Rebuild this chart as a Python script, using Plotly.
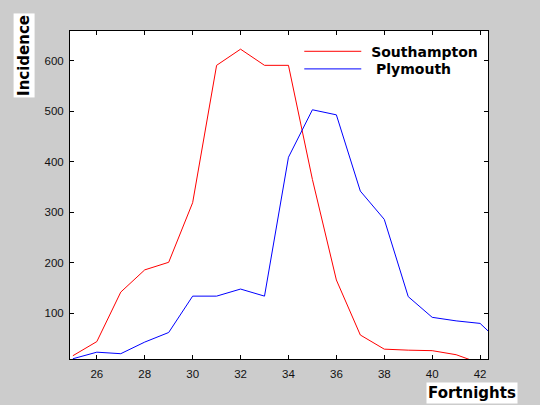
import plotly.graph_objects as go

fortnights = list(range(25, 44))
southampton = [16, 44, 142, 186, 201, 319, 591, 623, 591, 591, 365, 166, 57, 29, 27, 26, 18, 1, 0]
plymouth = [10, 23, 20, 43, 62, 134, 134, 148, 134, 409, 503, 493, 342, 286, 133, 92, 85, 80, 35]
series_names = [" Southampton", "  Plymouth"]
x_ticks = [26, 28, 30, 32, 34, 36, 38, 40, 42]
y_ticks = [100, 200, 300, 400, 500, 600]

fig = go.Figure()
fig.add_trace(go.Scatter(x=fortnights, y=southampton, mode="lines", name=series_names[0],
                         line=dict(color="#ff0000", width=1), legend="legend"))
fig.add_trace(go.Scatter(x=fortnights, y=plymouth, mode="lines", name=series_names[1],
                         line=dict(color="#0000ff", width=1), legend="legend2"))

axis_common = dict(showgrid=False, zeroline=False, ticks="inside", ticklen=4, tickwidth=1,
                   tickcolor="#000", showline=True, linecolor="#000", linewidth=1, mirror="ticks",
                   tickfont=dict(family="Liberation Sans", size=11.5, color="#111"))
fig.update_xaxes(range=[24.88, 42.33], tickvals=x_ticks, ticklabelstandoff=4, **axis_common)
fig.update_yaxes(range=[9.5, 659], tickvals=y_ticks, ticklabelstandoff=3, **axis_common)

legend_font = dict(family="DejaVu Sans", size=14, color="#000", weight="bold")
legend_common = dict(xanchor="left", yanchor="top", bgcolor="rgba(0,0,0,0)",
                     borderwidth=0, itemwidth=57, font=legend_font)

fig.update_layout(
    width=540, height=405,
    margin=dict(l=70, r=52, t=31, b=46, autoexpand=False),
    paper_bgcolor="#cccccc", plot_bgcolor="#ffffff",
    showlegend=True,
    legend=dict(x=0.5485, y=0.9857, **legend_common),
    legend2=dict(x=0.5485, y=0.932, **legend_common),
    annotations=[
        dict(text="Incidence", xref="paper", yref="paper", x=-0.110, y=0.924, textangle=-90,
             showarrow=False, bgcolor="#ffffff", xanchor="center", yanchor="middle",
             font=dict(family="DejaVu Sans", size=15, color="#000", weight="bold"), borderpad=1),
        dict(text="Fortnights", xref="paper", yref="paper", x=0.962, y=-0.104,
             showarrow=False, bgcolor="#ffffff", xanchor="center", yanchor="middle",
             font=dict(family="DejaVu Sans", size=15, color="#000", weight="bold"), borderpad=1),
    ],
)

fig.write_html("out.html", config={"displayModeBar": False},
               post_script="document.body.style.margin='0';document.body.style.background='#cccccc';")
